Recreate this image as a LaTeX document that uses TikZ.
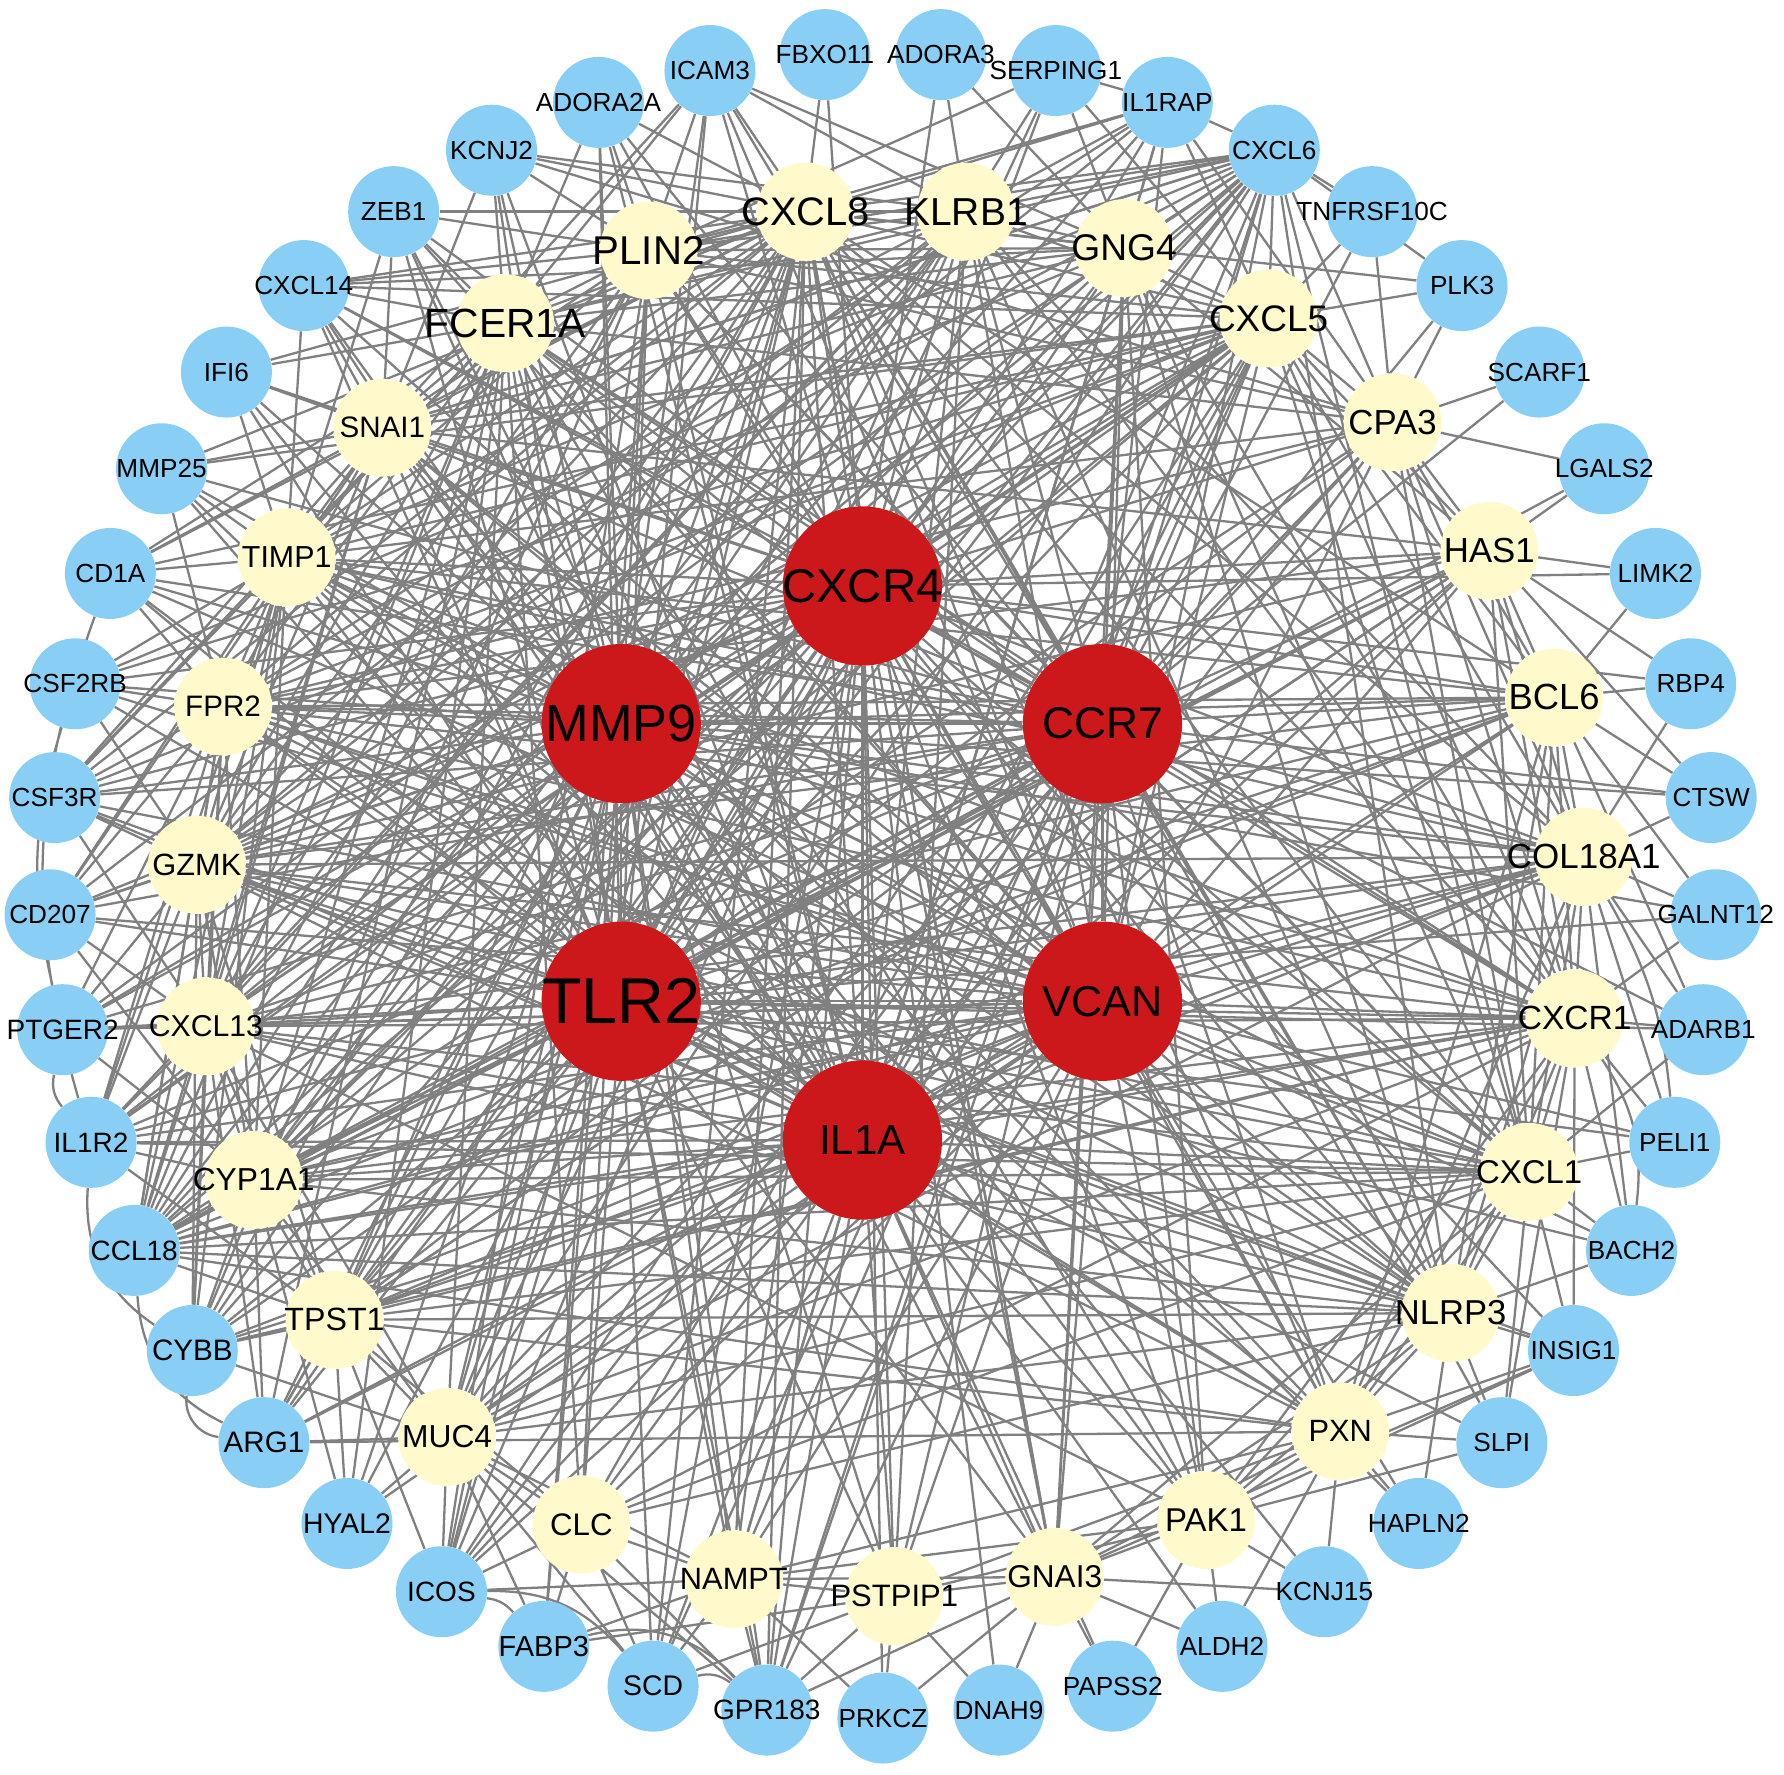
\documentclass[tikz,border=0pt]{standalone}
\usepackage{fontspec}
\setmainfont{Liberation Sans}
\usetikzlibrary{backgrounds}

\definecolor{hubred}{RGB}{205,24,27}
\definecolor{midyellow}{RGB}{255,249,204}
\definecolor{leafblue}{RGB}{137,207,245}
\definecolor{linkgray}{RGB}{128,128,128}

\newcommand{\fsz}[1]{\fontsize{#1}{#1}\selectfont}
\newcommand{\gtxt}[1]{\hbox to 0pt{\hss#1\hss}}

\tikzset{
    gene/.style={circle, inner sep=0pt, text=black},
    hub/.style={gene, fill=hubred, minimum size=2.8cm, font=\fsz{22}},
    mid/.style={gene, fill=midyellow, minimum size=1.72cm, font=\fsz{16}},
    leaf/.style={gene, fill=leafblue, minimum size=1.6cm, font=\fsz{13.1}},
    link/.style={draw=linkgray, line width=1.15pt}
}

\begin{document}
\begin{tikzpicture}[x=0.02cm, y=-0.02cm]
        \useasboundingbox (0,0) rectangle (1568,1560);

        \node[leaf] (prkcz) at (776, 1510) {\gtxt{PRKCZ}};
        \node[leaf] (dnah9) at (878, 1503) {\gtxt{DNAH9}};
        \node[leaf] (papss2) at (978, 1482) {\gtxt{PAPSS2}};
        \node[leaf] (aldh2) at (1074, 1447) {\gtxt{ALDH2}};
        \node[leaf] (kcnj15) at (1164, 1399) {\gtxt{KCNJ15}};
        \node[leaf] (hapln2) at (1247, 1339) {\gtxt{HAPLN2}};
        \node[leaf] (slpi) at (1320, 1268) {\gtxt{SLPI}};
        \node[leaf] (insig1) at (1383, 1187) {\gtxt{INSIG1}};
        \node[leaf] (bach2) at (1434, 1099) {\gtxt{BACH2}};
        \node[leaf] (peli1) at (1472, 1004) {\gtxt{PELI1}};
        \node[leaf] (adarb1) at (1497, 905) {\gtxt{ADARB1}};
        \node[leaf] (galnt12) at (1508, 804) {\gtxt{GALNT12}};
        \node[leaf] (ctsw) at (1504, 701) {\gtxt{CTSW}};
        \node[leaf] (rbp4) at (1486, 601) {\gtxt{RBP4}};
        \node[leaf] (limk2) at (1455, 504) {\gtxt{LIMK2}};
        \node[leaf] (lgals2) at (1410, 412) {\gtxt{LGALS2}};
        \node[leaf] (scarf1) at (1353, 327) {\gtxt{SCARF1}};
        \node[leaf] (plk3) at (1285, 251) {\gtxt{PLK3}};
        \node[leaf] (tnfrsf10c) at (1206, 186) {\gtxt{TNFRSF10C}};
        \node[leaf] (cxcl6) at (1120, 132) {\gtxt{CXCL6}};
        \node[leaf] (il1rap) at (1026, 90) {\gtxt{IL1RAP}};
        \node[leaf] (serping1) at (928, 62) {\gtxt{SERPING1}};
        \node[leaf] (adora3) at (827, 48) {\gtxt{ADORA3}};
        \node[leaf] (fbxo11) at (725, 48) {\gtxt{FBXO11}};
        \node[leaf] (icam3) at (624, 62) {\gtxt{ICAM3}};
        \node[leaf] (adora2a) at (526, 90) {\gtxt{ADORA2A}};
        \node[leaf] (kcnj2) at (432, 132) {\gtxt{KCNJ2}};
        \node[leaf] (zeb1) at (346, 186) {\gtxt{ZEB1}};
        \node[leaf] (cxcl14) at (267, 251) {\gtxt{CXCL14}};
        \node[leaf] (ifi6) at (199, 327) {\gtxt{IFI6}};
        \node[leaf] (mmp25) at (142, 412) {\gtxt{MMP25}};
        \node[leaf] (cd1a) at (97, 504) {\gtxt{CD1A}};
        \node[leaf] (csf2rb) at (66, 601) {\gtxt{CSF2RB}};
        \node[leaf] (csf3r) at (48, 701) {\gtxt{CSF3R}};
        \node[leaf] (cd207) at (44, 804) {\gtxt{CD207}};
        \node[leaf, font=\fsz{14}] (ptger2) at (55, 905) {\gtxt{PTGER2}};
        \node[leaf, font=\fsz{14}] (il1r2) at (80, 1004) {\gtxt{IL1R2}};
        \node[leaf, font=\fsz{14}] (ccl18) at (118, 1099) {\gtxt{CCL18}};
        \node[leaf, font=\fsz{14.8}] (cybb) at (169, 1187) {\gtxt{CYBB}};
        \node[leaf, font=\fsz{14.8}] (arg1) at (232, 1268) {\gtxt{ARG1}};
        \node[leaf, font=\fsz{14.2}] (hyal2) at (305, 1339) {\gtxt{HYAL2}};
        \node[leaf, font=\fsz{14}] (icos) at (388, 1399) {\gtxt{ICOS}};
        \node[leaf, font=\fsz{14.5}] (fabp3) at (478, 1447) {\gtxt{FABP3}};
        \node[leaf, font=\fsz{14.2}] (scd) at (574, 1482) {\gtxt{SCD}};
        \node[leaf, font=\fsz{14}] (gpr183) at (674, 1503) {\gtxt{GPR183}};

        \node[mid, font=\fsz{19.9}] (cxcl8) at (708, 186) {\gtxt{CXCL8}};
        \node[mid, font=\fsz{19.5}] (klrb1) at (849, 186) {\gtxt{KLRB1}};
        \node[mid, font=\fsz{20.1}] (plin2) at (570, 220) {\gtxt{PLIN2}};
        \node[mid, font=\fsz{18.6}] (gng4) at (988, 218) {\gtxt{GNG4}};
        \node[mid, font=\fsz{20.4}] (fcer1a) at (444, 284) {\gtxt{FCER1A}};
        \node[mid, font=\fsz{18.5}] (cxcl5) at (1115, 280) {\gtxt{CXCL5}};
        \node[mid, font=\fsz{14.8}] (snai1) at (336, 376) {\gtxt{SNAI1}};
        \node[mid, font=\fsz{17.4}] (cpa3) at (1224, 371) {\gtxt{CPA3}};
        \node[mid, font=\fsz{15.2}] (timp1) at (252, 490) {\gtxt{TIMP1}};
        \node[mid, font=\fsz{17.4}] (has1) at (1309, 484) {\gtxt{HAS1}};
        \node[mid, font=\fsz{14.8}] (fpr2) at (196, 621) {\gtxt{FPR2}};
        \node[mid, font=\fsz{18.2}] (bcl6) at (1366, 613) {\gtxt{BCL6}};
        \node[mid, font=\fsz{15.4}] (gzmk) at (173, 760) {\gtxt{GZMK}};
        \node[mid, font=\fsz{17.5}] (col18a1) at (1392, 753) {\gtxt{COL18A1}};
        \node[mid, font=\fsz{15.1}] (cxcl13) at (181, 902) {\gtxt{CXCL13}};
        \node[mid, font=\fsz{16.8}] (cxcr1) at (1384, 895) {\gtxt{CXCR1}};
        \node[mid, font=\fsz{15.9}] (cyp1a1) at (223, 1037) {\gtxt{CYP1A1}};
        \node[mid, font=\fsz{16.5}] (cxcl1) at (1344, 1030) {\gtxt{CXCL1}};
        \node[mid, font=\fsz{16.1}] (tpst1) at (294, 1160) {\gtxt{TPST1}};
        \node[mid, font=\fsz{17.3}] (nlrp3) at (1275, 1154) {\gtxt{NLRP3}};
        \node[mid, font=\fsz{15.9}] (muc4) at (393, 1263) {\gtxt{MUC4}};
        \node[mid, font=\fsz{15.4}] (pxn) at (1178, 1258) {\gtxt{PXN}};
        \node[mid, font=\fsz{15.6}] (clc) at (511, 1340) {\gtxt{CLC}};
        \node[mid, font=\fsz{16.5}] (pak1) at (1060, 1336) {\gtxt{PAK1}};
        \node[mid, font=\fsz{15.4}] (nampt) at (645, 1388) {\gtxt{NAMPT}};
        \node[mid, font=\fsz{15.8}] (gnai3) at (927, 1386) {\gtxt{GNAI3}};
        \node[mid, font=\fsz{15.5}] (pstpip1) at (786, 1403) {\gtxt{PSTPIP1}};

        \node[hub, font=\fsz{23.7}] (cxcr4) at (758, 515) {\gtxt{CXCR4}};
        \node[hub, font=\fsz{26.2}] (mmp9) at (546, 636) {\gtxt{MMP9}};
        \node[hub, font=\fsz{22.2}] (ccr7) at (969, 636) {\gtxt{CCR7}};
        \node[hub, font=\fsz{32.4}] (tlr2) at (546, 880) {\gtxt{TLR2}};
        \node[hub, font=\fsz{21.6}] (vcan) at (969, 880) {\gtxt{VCAN}};
        \node[hub, font=\fsz{21}] (il1a) at (758, 1002) {\gtxt{IL1A}};

        \begin{scope}[on background layer]
        \foreach \s/\tl in {
            tlr2/{mmp9,cxcr4,ccr7,vcan,il1a,cxcl8,klrb1,plin2,gng4,fcer1a,cxcl5,snai1,cpa3,timp1,has1,fpr2,bcl6,gzmk,col18a1,cxcl13,cxcr1,cyp1a1,cxcl1,tpst1,nlrp3,muc4,pxn,clc,nampt,gnai3,pstpip1,cxcl6,il1rap,serping1,icam3,adora2a,kcnj2,zeb1,cxcl14,ifi6,mmp25,cd1a,csf2rb,csf3r,cd207,ptger2,il1r2,ccl18,cybb,arg1,hyal2,icos,scd,gpr183,slpi,insig1,bach2,adarb1,galnt12,peli1,lgals2},
            mmp9/{cxcr4,ccr7,vcan,il1a,cxcl8,klrb1,plin2,gng4,fcer1a,cxcl5,snai1,timp1,fpr2,bcl6,gzmk,col18a1,cxcl13,cxcr1,cyp1a1,cxcl1,tpst1,nlrp3,muc4,clc,nampt,pak1,gnai3,pstpip1,il1rap,cxcl6,icam3,adora2a,kcnj2,zeb1,cxcl14,ifi6,mmp25,cd1a,csf2rb,csf3r,cd207,ptger2,il1r2,ccl18,cybb,arg1,hyal2,icos,fabp3,gpr183,hapln2,kcnj15,galnt12,ctsw},
            cxcr4/{ccr7,vcan,il1a,cxcl8,klrb1,plin2,gng4,fcer1a,cxcl5,snai1,cpa3,timp1,has1,fpr2,bcl6,gzmk,col18a1,cxcl13,cxcr1,cyp1a1,cxcl1,tpst1,nlrp3,muc4,pxn,pak1,nampt,gnai3,pstpip1,cxcl6,serping1,adora3,fbxo11,icam3,adora2a,cxcl14,ifi6,csf2rb,csf3r,cd207,il1r2,ccl18,cybb,arg1,icos,scd,gpr183,prkcz,dnah9,insig1,rbp4,limk2},
            ccr7/{vcan,il1a,cxcl8,klrb1,plin2,gng4,fcer1a,cxcl5,snai1,cpa3,timp1,has1,fpr2,bcl6,gzmk,col18a1,cxcl13,cxcr1,cyp1a1,cxcl1,tpst1,nlrp3,pxn,pak1,nampt,gnai3,pstpip1,cxcl6,il1rap,icam3,adora2a,zeb1,cxcl14,mmp25,cd1a,csf3r,cd207,ptger2,il1r2,ccl18,cybb,icos,gpr183,scarf1,plk3,tnfrsf10c,ctsw,adarb1,slpi},
            vcan/{il1a,cxcl8,klrb1,plin2,gng4,fcer1a,cxcl5,snai1,cpa3,timp1,has1,fpr2,bcl6,gzmk,col18a1,cxcl13,cxcr1,cyp1a1,cxcl1,tpst1,nlrp3,muc4,pxn,clc,pak1,nampt,gnai3,pstpip1,cxcl6,icam3,zeb1,cxcl14,cd1a,csf2rb,csf3r,cd207,ptger2,il1r2,ccl18,cybb,arg1,hyal2,icos,gpr183,bach2,peli1,hapln2},
            il1a/{cxcl8,klrb1,plin2,gng4,fcer1a,cxcl5,snai1,cpa3,timp1,has1,fpr2,bcl6,gzmk,col18a1,cxcl13,cxcr1,cyp1a1,cxcl1,tpst1,nlrp3,muc4,pxn,clc,pak1,nampt,gnai3,pstpip1,cxcl6,il1rap,adora2a,kcnj2,zeb1,cxcl14,ifi6,mmp25,cd1a,csf3r,il1r2,ccl18,cybb,arg1,icos,scd,gpr183,papss2,aldh2},
            cxcl8/{plin2,klrb1,gng4,fcer1a,cxcl5,snai1,timp1,fpr2,bcl6,gzmk,col18a1,cxcl13,cxcr1,cyp1a1,cxcl1,tpst1,nlrp3,muc4,nampt,gnai3,pxn,zeb1,kcnj2,adora2a,icam3,fbxo11,il1rap,cxcl6,cxcl14,ifi6,mmp25,cd1a,csf3r,ccl18,cybb,icos,gpr183,scd,plk3},
            klrb1/{gng4,cxcl5,plin2,fcer1a,timp1,cxcl13,gzmk,cxcr1,col18a1,nlrp3,cyp1a1,pstpip1,adora3,serping1,icam3,il1rap,cxcl6,kcnj2,ccl18,cd207,il1r2,arg1},
            plin2/{fcer1a,snai1,gng4,cxcl5,timp1,gzmk,cxcl13,cpa3,icam3,adora2a,kcnj2,zeb1,cxcl14,serping1,il1rap,cxcl6,ccl18,icos,fabp3,cybb,cxcl1},
            gng4/{cxcl5,fcer1a,snai1,has1,cxcr1,cxcl1,gnai3,pak1,nlrp3,il1rap,cxcl6,serping1,icam3,adora3,cxcl14,csf2rb,ptger2,nampt},
            fcer1a/{snai1,timp1,cpa3,fpr2,gzmk,cxcl13,cyp1a1,clc,muc4,kcnj2,zeb1,cxcl14,ifi6,adora2a,icam3,cxcl6,csf3r,cd1a,ccl18,arg1,hyal2,cxcr1,cxcl1,pak1},
            cxcl5/{cpa3,snai1,has1,bcl6,col18a1,cxcr1,cxcl1,timp1,fpr2,gzmk,cxcl13,cyp1a1,il1rap,cxcl6,serping1,tnfrsf10c,plk3,cxcl14,mmp25,cd1a,csf2rb,csf3r,ptger2,il1r2,ccl18,clc,icos,scd},
            snai1/{timp1,fpr2,gzmk,cxcl13,mmp25,zeb1,cxcl14,ifi6,cd1a,kcnj2,icam3,cxcl6,csf3r,cd207,ccl18,has1,nlrp3,pxn},
            cpa3/{has1,bcl6,col18a1,cxcr1,cxcl1,scarf1,plk3,tnfrsf10c,lgals2,cxcl6,il1rap,kcnj2,timp1,fpr2,muc4},
            timp1/{fpr2,gzmk,cxcl13,cyp1a1,mmp25,cd1a,csf2rb,csf3r,cd207,ifi6,cxcl14,zeb1,il1r2,ccl18,cybb,cxcr1,col18a1,bcl6,pxn,cxcl1,nlrp3},
            has1/{bcl6,col18a1,cxcr1,cxcl1,limk2,lgals2,rbp4,ctsw,fpr2,gzmk,tpst1,muc4,cyp1a1},
            fpr2/{gzmk,cxcl13,cyp1a1,csf2rb,csf3r,cd1a,cd207,mmp25,ptger2,il1r2,ccl18,cybb,col18a1,cxcr1,bcl6,cxcl1,nlrp3},
            bcl6/{col18a1,cxcr1,cxcl1,nlrp3,rbp4,ctsw,limk2,galnt12,adarb1,gzmk,cxcl13,pxn,cyp1a1},
            gzmk/{cxcl13,cyp1a1,tpst1,csf2rb,csf3r,cd207,ptger2,il1r2,ccl18,cybb,col18a1,cxcr1,cxcl1,nlrp3,pxn},
            col18a1/{cxcr1,cxcl1,nlrp3,pxn,ctsw,galnt12,adarb1,peli1,bach2,rbp4,cxcl13,cyp1a1,tpst1,muc4},
            cxcl13/{cyp1a1,tpst1,muc4,ptger2,il1r2,ccl18,cybb,arg1,cd207,csf3r,cxcr1,cxcl1,nlrp3,pak1},
            cxcr1/{cxcl1,nlrp3,pxn,pak1,adarb1,peli1,bach2,galnt12,insig1,slpi,cyp1a1,tpst1,muc4,clc,cybb},
            cyp1a1/{tpst1,muc4,il1r2,ccl18,cybb,arg1,hyal2,ptger2,cd207,cxcl1,nlrp3},
            cxcl1/{nlrp3,pxn,pak1,gnai3,peli1,bach2,insig1,slpi,adarb1,tpst1,muc4,clc,il1r2},
            tpst1/{muc4,clc,ccl18,cybb,arg1,hyal2,icos,il1r2,nlrp3,pxn,has1},
            nlrp3/{pxn,pak1,gnai3,slpi,insig1,hapln2,bach2,muc4,clc},
            muc4/{clc,nampt,icos,hyal2,arg1,cybb,fabp3,scd,gpr183},
            pxn/{pak1,gnai3,pstpip1,kcnj15,hapln2,slpi,insig1,aldh2,nampt,arg1},
            clc/{nampt,icos,fabp3,scd,gpr183},
            pak1/{gnai3,pstpip1,kcnj15,aldh2,papss2,insig1,slpi,nampt},
            nampt/{pstpip1,gnai3,gpr183,scd,fabp3,icos,prkcz},
            gnai3/{pstpip1,dnah9,papss2,aldh2,kcnj15,prkcz,gpr183,insig1,cxcl8},
            pstpip1/{prkcz,gpr183,dnah9,scd,fabp3},
            ccl18/{cxcl1,nlrp3,cxcr1,pxn,col18a1,bcl6,has1,cpa3},
            il1rap/{cxcl6,serping1,fpr2,gzmk},
            cxcl6/{plk3,tnfrsf10c,tpst1,cyp1a1,cxcl13,gzmk,fpr2,timp1,snai1,muc4,gpr183,cxcl1,nlrp3}} \foreach \t in \tl \draw[link] (\s) -- (\t);

        \draw[link] (cd1a) to[bend right=18] (il1r2)
            (csf2rb) to[bend right=15] (ptger2)
            (ptger2) to[bend right=25] (il1r2)
            (il1r2) to[bend right=30] (cybb)
            (ccl18) to[bend right=30] (arg1)
            (cybb) to[bend right=45] (arg1)
            (icos) to[bend left=25] (scd)
            (icos) to[bend left=20] (fabp3)
            (fabp3) to[bend left=30] (gpr183)
            (scd) to[bend left=25] (gpr183)
            (cxcr1) to[bend left=20] (bach2)
            (col18a1) to[bend left=12] (peli1);
        \end{scope}
    \end{tikzpicture}
\end{document}
